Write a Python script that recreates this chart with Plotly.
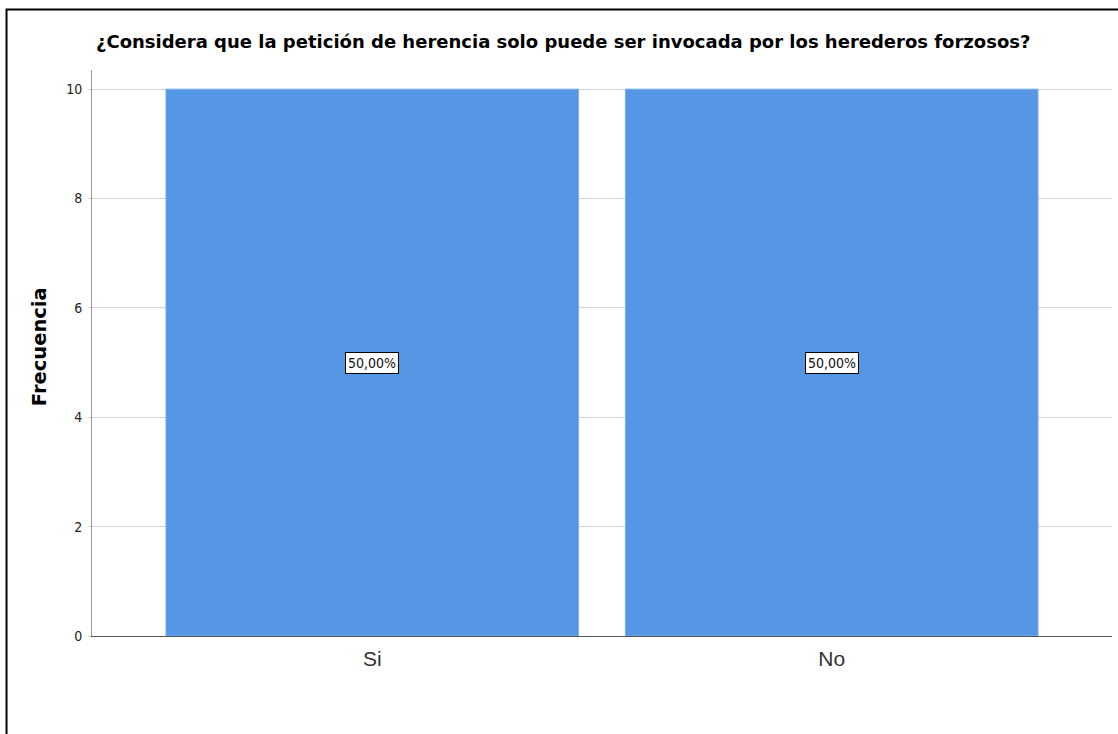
import plotly.graph_objects as go

categories = ["Si", "No"]
frequencies = [10, 10]
percent_labels = ["50,00%", "50,00%"]
y_ticks = [0, 2, 4, 6, 8, 10]

title = "¿Considera que la petición de herencia solo puede ser invocada por los herederos forzosos?"
bold_font = "DejaVu Sans, Liberation Sans, Arial, sans-serif"
narrow_font = "Liberation Sans Narrow, DejaVu Sans Condensed, Liberation Sans, Arial, sans-serif"
regular_font = "Liberation Sans, Arial, sans-serif"

fig = go.Figure()
fig.add_trace(go.Bar(
    x=list(range(len(categories))),
    y=frequencies,
    width=0.898,
    marker=dict(color="#5596E5", line=dict(color="#7AAEEC", width=1)),
    hoverinfo="skip",
))

for i, (v, lab) in enumerate(zip(frequencies, percent_labels)):
    fig.add_annotation(
        x=i, y=v / 2, text=lab, showarrow=False,
        font=dict(family=narrow_font, size=14, color="#111111"),
        bgcolor="#FFFFFF", bordercolor="#000000", borderwidth=1, borderpad=2,
    )

fig.add_annotation(
    xref="paper", yref="paper", x=0.462, y=1.051, xanchor="center", yanchor="middle",
    text="<b>" + title + "</b>", showarrow=False,
    font=dict(family=bold_font, size=18, color="#000000"),
)

fig.add_annotation(
    xref="paper", yref="paper", x=-0.052, y=0.512, xanchor="center", yanchor="middle",
    text="<b>Frecuencia</b>", showarrow=False, textangle=-90,
    font=dict(family=bold_font, size=19.5, color="#000000"),
)

fig.add_shape(
    type="rect", xref="paper", yref="paper",
    x0=-0.0838, x1=1.2, y0=-0.4, y1=1.1069,
    line=dict(color="#000000", width=2), fillcolor="rgba(0,0,0,0)", layer="above",
)

fig.update_layout(
    width=1118, height=734,
    margin=dict(l=92, r=6, t=70, b=98),
    paper_bgcolor="#FFFFFF", plot_bgcolor="#FFFFFF",
    showlegend=False,
    font=dict(family=regular_font, color="#222222"),
    xaxis=dict(
        tickmode="array", tickvals=list(range(len(categories))), ticktext=categories,
        range=[-0.61, 1.61], showgrid=False, zeroline=False,
        showline=True, linecolor="#555555", linewidth=1,
        ticks="", ticklabelstandoff=4,
        tickfont=dict(family=regular_font, size=21, color="#333333"),
    ),
    yaxis=dict(
        range=[0, 10.35], tickmode="array", tickvals=y_ticks,
        showgrid=True, gridcolor="#D4D4D4", gridwidth=1, zeroline=False,
        showline=True, linecolor="#999999", linewidth=1,
        ticks="outside", ticklen=3, tickcolor="#D4D4D4", ticklabelstandoff=3,
        tickfont=dict(family=narrow_font, size=14, color="#222222"),
    ),
)

fig.write_html(
    "out.html",
    config={"displayModeBar": False},
    post_script="document.body.style.margin='0px';document.body.style.overflow='hidden';",
)
